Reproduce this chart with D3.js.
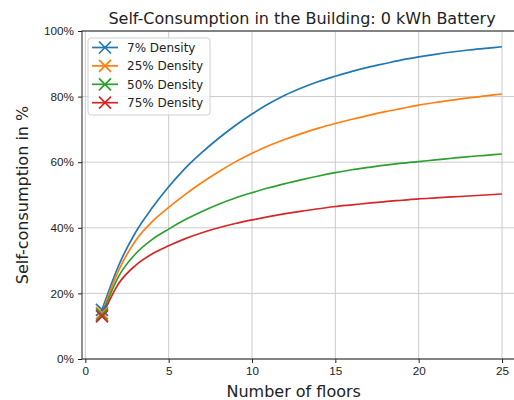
<!DOCTYPE html>
<html>
<head>
<meta charset="utf-8">
<script src="https://cdn.jsdelivr.net/npm/d3@7"></script>
<style>
  body { margin: 0; background: #fff; }
  svg { display: block; font-family: "DejaVu Sans", sans-serif; }
</style>
</head>
<body>
<div id="chart"></div>
<script>
const floors = d3.range(1, 26)

const density7 = [0.15, 0.285, 0.385, 0.46, 0.525, 0.582, 0.63, 0.673, 0.712, 0.747, 0.778, 0.805, 0.827, 0.846, 0.862, 0.877, 0.89, 0.901, 0.912, 0.921, 0.929, 0.936, 0.942, 0.947, 0.952]
const density25 = [0.14, 0.27, 0.36, 0.418, 0.462, 0.502, 0.538, 0.571, 0.601, 0.627, 0.65, 0.67, 0.688, 0.704, 0.718, 0.731, 0.743, 0.754, 0.764, 0.774, 0.782, 0.789, 0.796, 0.802, 0.808]
const density50 = [0.135, 0.252, 0.32, 0.364, 0.396, 0.425, 0.45, 0.472, 0.491, 0.507, 0.522, 0.535, 0.547, 0.558, 0.568, 0.577, 0.584, 0.591, 0.597, 0.602, 0.607, 0.612, 0.617, 0.621, 0.625]
const density75 = [0.13, 0.23, 0.285, 0.32, 0.345, 0.367, 0.385, 0.4, 0.413, 0.424, 0.434, 0.443, 0.451, 0.458, 0.465, 0.47, 0.475, 0.48, 0.484, 0.488, 0.491, 0.494, 0.497, 0.5, 0.503]

const seriesNames = ['7% Density', '25% Density', '50% Density', '75% Density']
const seriesValues = [density7, density25, density50, density75]
const colors = ['#1f77b4', '#ff7f0e', '#2ca02c', '#d62728']

const xTicks = [0, 5, 10, 15, 20, 25]
const yTicks = [0, 0.2, 0.4, 0.6, 0.8, 1.0]

const margin = { top: 31, right: -8, bottom: 41, left: 82 }
const width = 514 - margin.left - margin.right
const height = 400 - margin.top - margin.bottom

const svg = d3
  .select('#chart')
  .append('svg')
  .attr('width', 514)
  .attr('height', 400)

const g = svg.append('g')
  .attr('transform', 'translate(' + margin.left + ',' + margin.top + ')')

const xPositionScale = d3.scaleLinear().domain([-0.2, 26.2]).range([0, width])
const yPositionScale = d3.scaleLinear().domain([0, 1]).range([height, 0])

// grid
g.selectAll('.x-grid')
  .data(xTicks)
  .enter()
  .append('line')
  .attr('x1', d => xPositionScale(d))
  .attr('x2', d => xPositionScale(d))
  .attr('y1', 0)
  .attr('y2', height)
  .attr('stroke', '#cbcbcb')
  .attr('stroke-width', 1)

g.selectAll('.y-grid')
  .data(yTicks)
  .enter()
  .append('line')
  .attr('x1', 0)
  .attr('x2', width)
  .attr('y1', d => yPositionScale(d))
  .attr('y2', d => yPositionScale(d))
  .attr('stroke', '#cbcbcb')
  .attr('stroke-width', 1)

const line = d3.line()
  .x((d, i) => xPositionScale(floors[i]))
  .y(d => yPositionScale(d))
  .curve(d3.curveMonotoneX)

const marker = d3.symbol(d3.symbolX).size(96)

seriesValues.forEach((values, i) => {
  g.append('path')
    .datum(values)
    .attr('d', line)
    .attr('fill', 'none')
    .attr('stroke', colors[i])
    .attr('stroke-width', 1.7)
})

// markers only on the first floor
seriesValues.forEach((values, i) => {
  g.append('path')
    .attr('d', marker)
    .attr('transform', 'translate(' + xPositionScale(floors[0]) + ',' + yPositionScale(values[0]) + ')')
    .attr('fill', 'none')
    .attr('stroke', colors[i])
    .attr('stroke-width', 1.7)
})

// axes
const xAxis = d3.axisBottom(xPositionScale).tickValues(xTicks).tickSize(4).tickPadding(4)
const yAxis = d3.axisLeft(yPositionScale).tickValues(yTicks).tickSize(4).tickPadding(4)
  .tickFormat(d3.format('.0%'))

g.append('g')
  .attr('class', 'axis x-axis')
  .attr('transform', 'translate(0,' + height + ')')
  .call(xAxis)

g.append('g')
  .attr('class', 'axis y-axis')
  .call(yAxis)

g.selectAll('.axis .domain').remove()
g.selectAll('.axis text')
  .attr('fill', '#222')
  .style('font-size', '11.7px')
g.selectAll('.axis line').attr('stroke', '#222').attr('stroke-width', 1)

// spines
g.append('rect')
  .attr('x', 0)
  .attr('y', 0)
  .attr('width', width)
  .attr('height', height)
  .attr('fill', 'none')
  .attr('stroke', '#222')
  .attr('stroke-width', 1)

// title and labels
svg.append('text')
  .attr('x', margin.left + width / 2)
  .attr('y', 24)
  .attr('text-anchor', 'middle')
  .attr('fill', '#222')
  .style('font-size', '16px')
  .text('Self-Consumption in the Building: 0 kWh Battery')

svg.append('text')
  .attr('x', margin.left + xPositionScale(12.5))
  .attr('y', 397)
  .attr('text-anchor', 'middle')
  .attr('fill', '#222')
  .style('font-size', '16px')
  .text('Number of floors')

svg.append('text')
  .attr('transform', 'translate(28,' + (margin.top + height / 2) + ') rotate(-90)')
  .attr('text-anchor', 'middle')
  .attr('fill', '#222')
  .style('font-size', '16px')
  .text('Self-consumption in %')

// legend
const legend = g.append('g').attr('transform', 'translate(6,7)')

legend.append('rect')
  .attr('width', 122)
  .attr('height', 77)
  .attr('rx', 3)
  .attr('fill', 'white')
  .attr('fill-opacity', 0.8)
  .attr('stroke', '#d0d0d0')

seriesNames.forEach((name, i) => {
  const row = legend.append('g').attr('transform', 'translate(0,' + (9.5 + i * 18.4) + ')')
  row.append('line')
    .attr('x1', 4)
    .attr('x2', 30)
    .attr('stroke', colors[i])
    .attr('stroke-width', 1.7)
  row.append('path')
    .attr('d', marker)
    .attr('transform', 'translate(17,0)')
    .attr('fill', 'none')
    .attr('stroke', colors[i])
    .attr('stroke-width', 1.7)
  row.append('text')
    .attr('x', 39)
    .attr('dy', '0.35em')
    .attr('fill', '#222')
    .style('font-size', '12px')
    .text(name)
})
</script>
</body>
</html>
